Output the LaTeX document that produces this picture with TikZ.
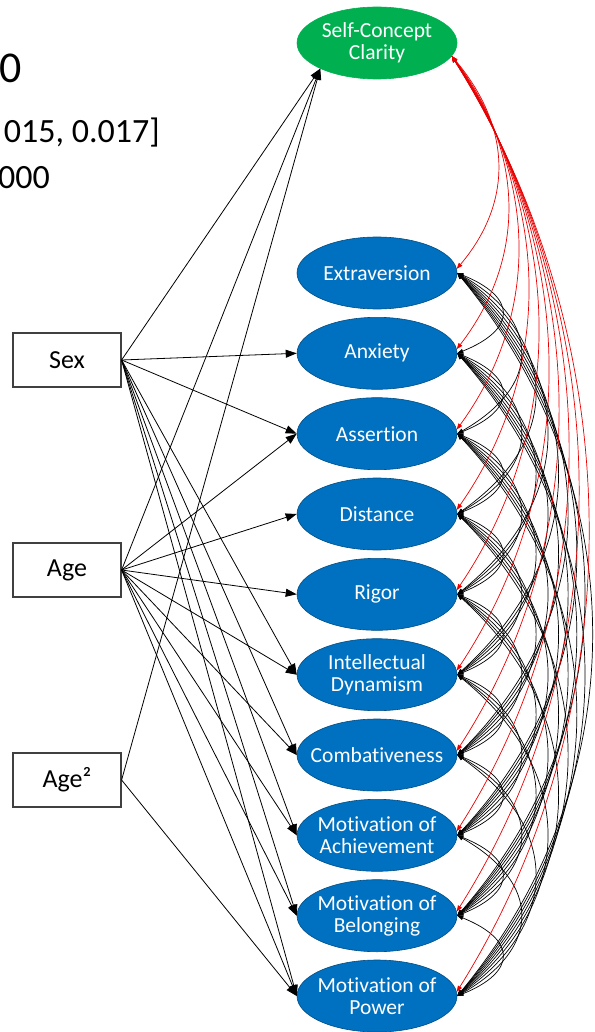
\documentclass[tikz,border=0pt]{standalone}
\usepackage{fontspec}
\setmainfont{Carlito}[Ligatures=NoCommon]
\usetikzlibrary{arrows.meta,shapes.geometric}
\definecolor{traitblue}{RGB}{0,112,192}
\definecolor{claritygreen}{RGB}{0,176,80}
\definecolor{covred}{RGB}{232,0,0}

\begin{document}
\begin{tikzpicture}[x=1pt,y=1pt,
  trait/.style={ellipse, fill=traitblue, draw=traitblue!70!black, line width=0.6pt,
    minimum width=160pt, minimum height=72pt, inner xsep=-14pt, inner ysep=-8pt,
    text=white, align=center, font=\fontsize{21.5}{22}\selectfont},
  ctrl/.style={draw=black!75, line width=1.2pt, minimum width=108pt,
    minimum height=54pt, inner sep=0pt, font=\fontsize{26}{28}\selectfont},
  fitline/.style={anchor=base east, inner sep=0pt},
  effect/.style={line width=0.8pt, -{Triangle[length=11pt,width=8pt]}},
  cov/.style={line width=0.7pt, {Triangle[length=6pt,width=4.5pt]}-{Triangle[length=6pt,width=4.5pt]}}]
\useasboundingbox (0,0) rectangle (594,-1032);
\clip (0,0) rectangle (594,-1032);

% fit indices, at the left margin
\node[fitline, font=\fontsize{44}{44}\selectfont] (fit1) at (22,-83) {0};
\node[fitline, font=\fontsize{34}{34}\selectfont] (fit2) at (160,-143) {015, 0.017]};
\node[fitline, anchor=base west, font=\fontsize{34}{34}\selectfont] (fit3) at (-2,-189) {000};

% outcome and traits
\node[trait, fill=claritygreen, draw=claritygreen] (scc) at (377,-43) {Self-Concept\\Clarity};
\node[trait] (extr) at (377,-273) {Extraversion};
\node[trait] (anx) at (377,-353.3) {Anxiety};
\node[trait] (assr) at (377,-433.7) {Assertion};
\node[trait] (dist) at (377,-514) {Distance};
\node[trait] (rig) at (377,-594.3) {Rigor};
\node[trait] (intd) at (377,-674.7) {Intellectual\\Dynamism};
\node[trait] (comb) at (377,-755) {Combativeness};
\node[trait] (ach) at (377,-835.3) {Motivation of\\Achievement};
\node[trait] (bel) at (377,-915.7) {Motivation of\\Belonging};
\node[trait] (pow) at (377,-996) {Motivation of\\Power};

% controls
\node[ctrl] (sex) at (67,-360) {Sex};
\node[ctrl] (age) at (67,-570) {Age};
\node[ctrl] (agesq) at (67,-780) {Age²};

\draw[effect] (sex.east) -- (scc.south west);
\draw[effect] (age.east) -- (scc.south west);
\draw[effect] (agesq.east) -- (scc.south west);
\foreach \t in {anx,assr,intd,comb,ach,bel,pow}
  \draw[effect] (sex.east) -- (\t.west);
\foreach \t in {assr,dist,rig,intd,comb,ach,bel,pow}
  \draw[effect] (age.east) -- (\t.west);
\draw[effect] (agesq.east) -- (pow.west);

% covariances among traits
\foreach \a [count=\i] in {extr,anx,assr,dist,rig,intd,comb,ach,bel,pow}{
  \foreach \b [count=\j] in {extr,anx,assr,dist,rig,intd,comb,ach,bel,pow}{
    \ifnum\j>\i
      \pgfmathsetmacro\dd{(\j-\i)*80.33}
      \pgfmathsetmacro\bx{5*sqrt(\dd)/0.75}
      \pgfmathsetmacro\by{0.3*\dd}
      \pgfmathsetmacro\ang{atan2(\by,\bx)}
      \pgfmathsetmacro\dst{veclen(\bx,\by)}
      \draw[cov] (\a.east) to[out=-\ang, in=\ang, distance=\dst pt] (\b.east);
    \fi
  }
}

% covariances with clarity
\foreach \b [count=\j] in {extr,anx,assr,dist,rig,intd,comb,ach,bel,pow}{
  \pgfmathsetmacro\dd{230+(\j-1)*80.33}
  \pgfmathsetmacro\bx{(15+0.125*\dd)/0.75}
  \pgfmathsetmacro\by{0.3*\dd}
  \pgfmathsetmacro\ang{atan2(\by,\bx)}
  \pgfmathsetmacro\dst{veclen(\bx,\by)}
  \draw[cov, covred] (scc.350) to[out=-\ang, in=\ang, distance=\dst pt] (\b.3);
}
\end{tikzpicture}
\end{document}
